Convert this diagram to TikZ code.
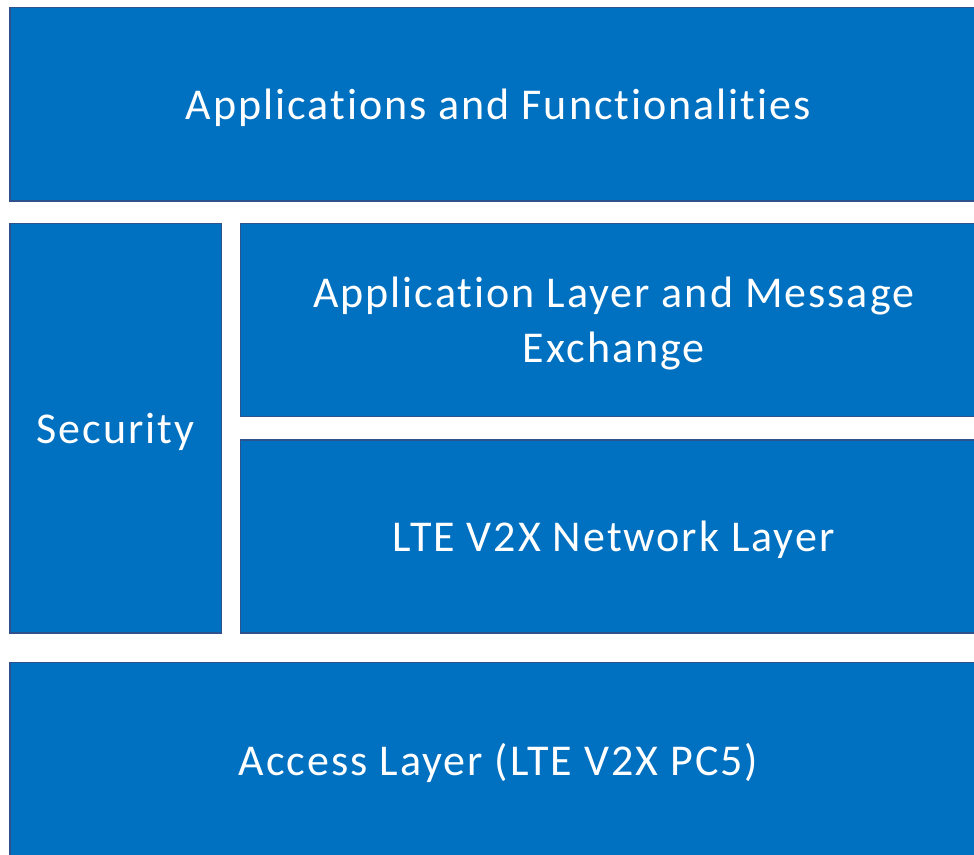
\documentclass[tikz,border=0pt]{standalone}
\usepackage{fontspec}
\setmainfont[Ligatures=NoCommon,LetterSpace=4.5]{Carlito}
\usepackage{tikz}
\usetikzlibrary{positioning}
\definecolor{layerblue}{HTML}{0070C0}
\definecolor{layeredge}{HTML}{2F528F}

\begin{document}
\begin{tikzpicture}[
x=1pt,y=-1pt,
Layers/.style={draw=layeredge,fill=layerblue,line width=1.3pt,anchor=north west,
  inner sep=0pt,outer sep=0pt,text=white,align=center,text depth=0pt,
  font=\fontsize{44}{55}\selectfont}
]
\useasboundingbox (0,0) rectangle (974,854);

\node[Layers,minimum width=977pt,minimum height=193.5pt] (Apps) at (10,7.5)
  {Applications and Functionalities};

\node[Layers,minimum width=211.5pt,minimum height=409.5pt] (Security) at (10,223.5)
  {Security};

\node[Layers,minimum width=746.5pt,minimum height=193pt] (Message) at (240.5,223.5)
  {Application Layer and Message\\Exchange};

\node[Layers,minimum width=746.5pt,minimum height=193pt] (Network) at (240.5,440)
  {LTE V2X Network Layer};

\node[Layers,minimum width=977pt,minimum height=193.5pt] (Access) at (10,662.5)
  {Access Layer (LTE V2X PC5)};

\end{tikzpicture}
\end{document}
